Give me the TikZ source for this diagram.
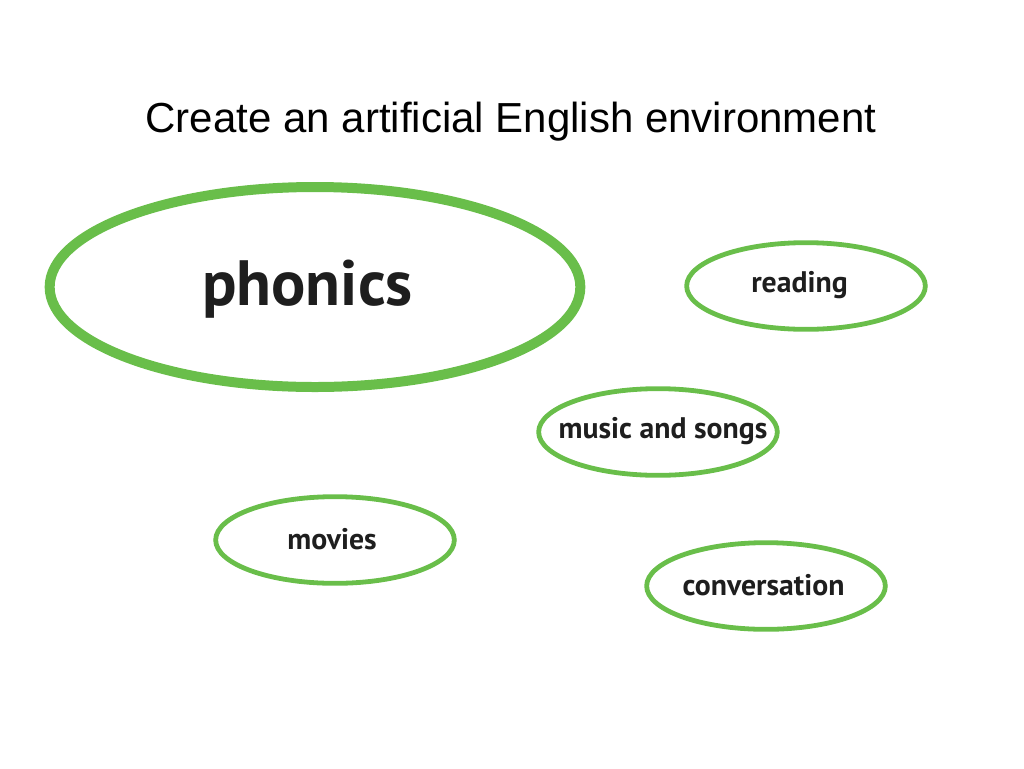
\documentclass[tikz,border=0pt]{standalone}
\usepackage{fontspec}
\setmainfont{Liberation Sans}
\newfontfamily\bubblefont{PT Sans}
\usetikzlibrary{shapes.geometric}
\definecolor{bubblegreen}{HTML}{69BE4A}
\definecolor{inkgray}{HTML}{1E1E1E}

\begin{document}
\begin{tikzpicture}[x=0.75pt,y=-0.75pt,
  bubble/.style={ellipse,draw=bubblegreen,line width=3.6pt,inner sep=0pt,
    minimum width=179pt,minimum height=65pt},
  bigbubble/.style={bubble,line width=7.5pt,minimum width=398pt,minimum height=150pt},
  word/.style={text=inkgray,inner sep=0pt,font=\bubblefont\bfseries\fontsize{22.3}{24}\selectfont},
  bigword/.style={word,font=\bubblefont\bfseries\fontsize{48}{52}\selectfont}]
  \useasboundingbox (0,0) rectangle (1024,768);
  \node[font=\fontsize{31.5}{34}\selectfont] (title) at (511, 122) {Create an artificial English environment};
  \node[bigbubble] (phonics) at (315, 287) {};
  \node[bubble] (reading) at (806, 286) {};
  \node[bubble] (music) at (658, 432) {};
  \node[bubble] (movies) at (335, 540) {};
  \node[bubble] (conversation) at (766, 586) {};
  \node[bigword] (phonicstext) at (307.5, 289) {phonics};
  \node[word] (readingtext) at (799.5, 285.5) {reading};
  \node[word] (musictext) at (663, 431.5) {music and songs};
  \node[word] (moviestext) at (332, 539.5) {movies};
  \node[word] (conversationtext) at (763.5, 585.5) {conversation};
\end{tikzpicture}
\end{document}
